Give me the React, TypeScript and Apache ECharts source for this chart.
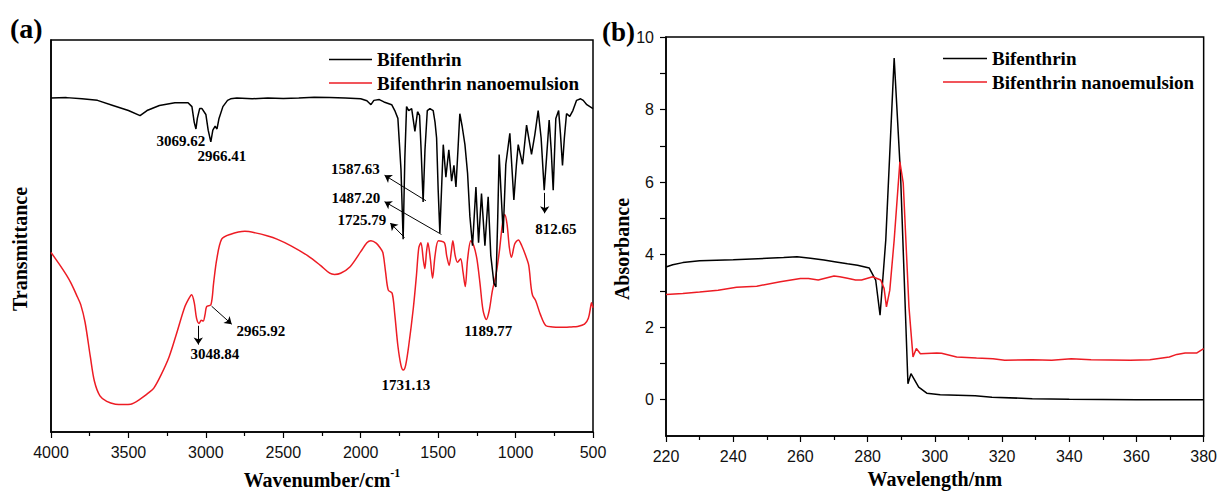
import React, { useEffect, useRef } from 'react';
import * as echarts from 'echarts';

const SERIF = '"Liberation Serif", "Times New Roman", serif';
const SANS = '"Liberation Sans", Arial, sans-serif';
const BLACK = '#000000';
const RED = '#ed1c24';

const SERIES_NAMES = ['Bifenthrin', 'Bifenthrin nanoemulsion'];

// (a) FTIR: [wavenumber cm-1, transmittance (arb.)]
const FTIR_BIFENTHRIN: [number, number][] = [
  [4000, 85.2], [3900, 85.3], [3800, 85.0], [3700, 84.6], [3600, 83.3], [3500, 82.0], [3425, 80.7],
  [3380, 82], [3300, 83.3], [3200, 84], [3115, 84], [3090, 83], [3075, 79], [3064, 77.3], [3055, 80],
  [3040, 82.5], [3025, 82.5], [3000, 81], [2985, 77], [2968, 74], [2955, 77], [2940, 78], [2928, 77.3],
  [2915, 80], [2890, 83], [2860, 84.6], [2840, 85], [2800, 85.2], [2700, 85], [2600, 85.2], [2500, 85.1],
  [2400, 85.2], [2300, 85.4], [2200, 85.3], [2100, 85.2], [2000, 85], [1960, 84.5], [1934, 83.5],
  [1915, 84.6], [1880, 84.8], [1850, 84.2], [1800, 83.5], [1780, 82], [1760, 80], [1740, 67], [1726, 49.2],
  [1715, 70], [1704, 83], [1690, 82], [1671, 82.5], [1650, 76.7], [1633, 81.7], [1620, 80.8], [1610, 72],
  [1597, 58.7], [1585, 72], [1570, 82], [1553, 82.5], [1532, 82], [1520, 79], [1510, 75], [1500, 62],
  [1489, 50.8], [1478, 62], [1467, 73.3], [1450, 65], [1431, 72], [1413, 64], [1398, 68], [1385, 62.5],
  [1372, 72], [1360, 81.2], [1345, 78], [1327, 73.3], [1310, 66], [1295, 55], [1278, 47.5], [1256, 62.5],
  [1239, 48.3], [1220, 60.8], [1198, 47.5], [1177, 60], [1160, 45], [1140, 38], [1127, 37], [1115, 55],
  [1106, 70.8], [1095, 62], [1080, 50.8], [1063, 68.3], [1037, 76.2], [1011, 59.2], [995, 68], [983, 73.3],
  [955, 68.3], [929, 78.3], [897, 70.8], [875, 76], [854, 82], [835, 75], [815, 61.7], [800, 70], [783, 79.6],
  [770, 72], [757, 61.7], [745, 75], [740, 80], [722, 82], [710, 76], [697, 68], [685, 75], [671, 81.2],
  [650, 80.5], [630, 82], [606, 84.6], [580, 85], [563, 84.6], [540, 83.5], [520, 83], [500, 82.5],
];

const FTIR_NANOEMULSION: [number, number][] = [
  [4000, 45.8], [3950, 43], [3900, 40], [3870, 37.9], [3830, 34.5], [3808, 32.5], [3780, 28], [3746, 19.2],
  [3720, 13], [3684, 9.2], [3640, 7.8], [3584, 7.1], [3530, 7], [3485, 7.1], [3420, 8.5], [3370, 10],
  [3336, 11.2], [3290, 14.5], [3237, 19.2], [3190, 25], [3138, 31.7], [3110, 34], [3092, 35], [3075, 33],
  [3060, 29], [3043, 27.7], [3030, 28.5], [3017, 28.3], [3005, 30], [2995, 32], [2967, 32.5], [2950, 38],
  [2930, 44], [2898, 49.2], [2844, 50.4], [2748, 51.2], [2680, 50.8], [2600, 50], [2541, 49.2], [2450, 47.5],
  [2343, 45], [2260, 42.5], [2200, 40.5], [2169, 40.2], [2130, 40.5], [2070, 42.1], [2000, 46], [1960, 48.3],
  [1934, 48.8], [1900, 48.2], [1875, 47], [1857, 45.8], [1840, 41], [1822, 36.2], [1797, 35.4], [1780, 30],
  [1760, 22], [1740, 17], [1725, 15.8], [1710, 17], [1690, 22], [1660, 31.7], [1640, 40], [1625, 47],
  [1611, 48.3], [1596, 44], [1586, 41.7], [1575, 46], [1566, 48.3], [1550, 44], [1536, 39.2], [1520, 45],
  [1498, 48.8], [1460, 48.3], [1445, 45], [1429, 42.5], [1415, 46], [1405, 48.8], [1390, 45], [1375, 43.3],
  [1355, 44.2], [1340, 41], [1325, 37.1], [1310, 44], [1289, 48.8], [1270, 47.5], [1250, 44.2], [1230, 38],
  [1210, 31], [1189, 28.7], [1170, 31], [1150, 36], [1127, 40], [1105, 46], [1085, 53], [1070, 55.5],
  [1055, 53], [1040, 47], [1027, 44.6], [1005, 48], [982, 49], [960, 47.5], [935, 45], [915, 42.5],
  [900, 37], [890, 34.8], [870, 33.5], [840, 30], [804, 27.1], [760, 26.8], [720, 26.7], [679, 26.7],
  [640, 26.8], [600, 26.9], [555, 27.5], [530, 29], [515, 32], [510, 33], [500, 31.7],
];

// (b) UV-vis: [wavelength nm, absorbance]
const UV_BIFENTHRIN: [number, number][] = [
  [220, 3.66], [222, 3.72], [225, 3.78], [230, 3.83], [240, 3.86], [250, 3.9], [255, 3.92], [259, 3.94],
  [263, 3.9], [267, 3.85], [270.6, 3.8], [274, 3.75], [277, 3.71], [280.5, 3.63], [282.4, 3.3],
  [283.7, 2.33], [285.4, 4.4], [287.9, 9.42], [289.8, 6.2], [292, 0.44], [292.9, 0.72], [295.2, 0.35],
  [297.6, 0.18], [301.6, 0.14], [312, 0.11], [317, 0.07], [329, 0.03], [340, 0.01], [360, 0.0], [380, 0.0],
];

const UV_NANOEMULSION: [number, number][] = [
  [220, 2.9], [225, 2.93], [230, 2.97], [235.5, 3.02], [241, 3.1], [247, 3.13], [254, 3.25], [260, 3.34],
  [262.4, 3.34], [265.3, 3.3], [270, 3.41], [271.7, 3.39], [274, 3.35], [276.4, 3.3], [278.2, 3.3],
  [281.5, 3.39], [283.9, 3.3], [284.9, 3.07], [285.6, 2.56], [286.6, 3.02], [287.9, 4.4], [289.6, 6.56],
  [290.6, 5.97], [292.3, 2.56], [293.5, 1.18], [294.5, 1.41], [295.7, 1.27], [300.6, 1.29], [302, 1.28],
  [306.5, 1.18], [312.4, 1.15], [317.3, 1.13], [320.8, 1.09], [329, 1.1], [334.8, 1.09], [340.6, 1.13],
  [346.5, 1.1], [358.2, 1.09], [364, 1.1], [369.8, 1.18], [372, 1.25], [374.5, 1.29], [378, 1.29], [380, 1.41],
];

// Peak annotations (data coordinates)
const BLACK_PEAK_LABELS: { text: string; at: [number, number] }[] = [
  { text: '3069.62', at: [3161, 74.3] },
  { text: '2966.41', at: [2896, 70.5] },
  { text: '1587.63', at: [2034, 67] },
  { text: '1487.20', at: [2031, 59.6] },
  { text: '1725.79', at: [1992, 54.2] },
  { text: '812.65', at: [740, 51.7] },
];
const BLACK_PEAK_ARROWS: { from: [number, number]; to: [number, number] }[] = [
  { from: [1579, 59], to: [1846, 65.5] },
  { from: [1479, 50.4], to: [1846, 58.75] },
  { from: [1717, 49.6], to: [1809, 53.3] },
  { from: [812, 61], to: [812, 55.8] },
];
const RED_PEAK_LABELS: { text: string; at: [number, number] }[] = [
  { text: '3048.84', at: [2941, 20] },
  { text: '2965.92', at: [2644, 25.7] },
  { text: '1731.13', at: [1708, 12.1] },
  { text: '1189.77', at: [1176, 25.7] },
];
const RED_PEAK_ARROWS: { from: [number, number]; to: [number, number] }[] = [
  { from: [3049, 27.1], to: [3049, 22.3] },
  { from: [2963, 32.1], to: [2833, 27.5] },
];

const UV_Y_MAJOR = [0, 2, 4, 6, 8, 10];
const UV_Y_TICKS = [0, 1, 2, 3, 4, 5, 6, 7, 8, 9, 10];

const annotLabelStyle = {
  fontFamily: SERIF,
  fontWeight: 'bold' as const,
  fontSize: 15,
  color: BLACK,
};

function markPoints(list: { text: string; at: [number, number] }[]) {
  return {
    silent: true,
    symbol: 'circle',
    symbolSize: 1,
    itemStyle: { color: 'rgba(0,0,0,0)' },
    label: { show: true, position: 'inside', formatter: '{b}', ...annotLabelStyle },
    data: list.map((l) => ({ name: l.text, coord: l.at })),
  };
}

function markArrows(list: { from: [number, number]; to: [number, number] }[]) {
  return {
    silent: true,
    symbol: ['none', 'arrow'],
    symbolSize: 7,
    lineStyle: { color: BLACK, width: 1, type: 'solid' },
    label: { show: false },
    data: list.map((a) => [{ coord: a.from }, { coord: a.to }]),
  };
}

const plain = (v: number) => String(v);
const tickLabelStyle = { fontFamily: SANS, fontSize: 16, color: '#111', formatter: plain };
const titleStyle = { fontFamily: SERIF, fontWeight: 'bold' as const, fontSize: 20, color: BLACK };
const axisLine = { show: true, onZero: false, lineStyle: { color: BLACK, width: 1.5 } };

const legendBase = {
  orient: 'vertical' as const,
  icon: 'rect',
  itemHeight: 1.6,
  itemGap: 4.5,
  padding: 0,
  textStyle: { fontFamily: SERIF, fontWeight: 'bold' as const, fontSize: 19, color: BLACK },
  data: SERIES_NAMES,
  selectedMode: false,
};

export default function App() {
  const ref = useRef<HTMLDivElement>(null);
  useEffect(() => {
    document.body.style.margin = '0';
    if (!ref.current) return;
    const chart = echarts.init(ref.current, undefined, { renderer: 'svg' });
    const option: any = {
      animation: false,
      backgroundColor: '#ffffff',
      legend: [
        { ...legendBase, left: 329, top: 50, itemWidth: 43 },
        { ...legendBase, left: 943, top: 49, itemWidth: 44 },
      ],
      graphic: [
        {
          type: 'text',
          left: 10,
          top: 14,
          style: { text: '(a)', fontFamily: SERIF, fontWeight: 'bold', fontSize: 28, fill: BLACK },
        },
        {
          type: 'text',
          left: 602,
          top: 18,
          z: 10,
          style: { text: '(b)', fontFamily: SERIF, fontWeight: 'bold', fontSize: 27, fill: BLACK },
        },
      ],
      grid: [
        { left: 51, top: 40, width: 542, height: 400, show: true, borderColor: BLACK, borderWidth: 1.5, backgroundColor: 'transparent' },
        { left: 666, top: 37, width: 544, height: 399, show: true, borderColor: BLACK, borderWidth: 1.5, backgroundColor: 'transparent' },
      ],
      xAxis: [
        {
          gridIndex: 0,
          type: 'value',
          inverse: true,
          min: 500,
          max: 4000,
          interval: 500,
          axisLine,
          axisTick: { show: true, inside: false, length: 6, lineStyle: { color: BLACK, width: 1.2 } },
          minorTick: { show: true, splitNumber: 2, length: 4, lineStyle: { color: BLACK, width: 1.2 } },
          axisLabel: { ...tickLabelStyle, margin: 12 },
          splitLine: { show: false },
          name: 'Wavenumber/cm{sup|-1}',
          nameLocation: 'middle',
          nameGap: 35,
          nameTextStyle: {
            ...titleStyle,
            lineHeight: 26,
            rich: {
              sup: { fontFamily: SERIF, fontWeight: 'bold', fontSize: 12, color: BLACK, verticalAlign: 'top', lineHeight: 12 },
            },
          },
        },
        {
          gridIndex: 1,
          type: 'value',
          min: 220,
          max: 380,
          interval: 20,
          axisLine,
          axisTick: { show: true, inside: false, length: 6, lineStyle: { color: BLACK, width: 1.2 } },
          minorTick: { show: true, splitNumber: 2, length: 4, lineStyle: { color: BLACK, width: 1.2 } },
          axisLabel: { ...tickLabelStyle, margin: 12 },
          splitLine: { show: false },
          name: 'Wavelength/nm',
          nameLocation: 'middle',
          nameGap: 33,
          nameTextStyle: titleStyle,
        },
      ],
      yAxis: [
        {
          gridIndex: 0,
          type: 'value',
          min: 0,
          max: 100,
          axisLine,
          axisTick: { show: false },
          axisLabel: { show: false },
          splitLine: { show: false },
          name: 'Transmittance',
          nameLocation: 'middle',
          nameGap: 21,
          nameTextStyle: { ...titleStyle, padding: [0, 26, 0, 0] },
        },
        {
          gridIndex: 1,
          type: 'value',
          min: -1,
          max: 10,
          axisLine,
          axisTick: { show: true, inside: false, length: 6, customValues: UV_Y_TICKS, lineStyle: { color: BLACK, width: 1.2 } },
          axisLabel: { ...tickLabelStyle, margin: 12, customValues: UV_Y_MAJOR },
          splitLine: { show: false },
          name: 'Absorbance',
          nameLocation: 'middle',
          nameGap: 32,
          nameTextStyle: { ...titleStyle, padding: [0, 25, 0, 0] },
        },
      ],
      series: [
        {
          name: SERIES_NAMES[0],
          type: 'line',
          xAxisIndex: 0,
          yAxisIndex: 0,
          data: FTIR_BIFENTHRIN,
          showSymbol: false,
          symbol: 'none',
          lineStyle: { color: BLACK, width: 1.5 },
          itemStyle: { color: BLACK },
          z: 3,
          markPoint: markPoints(BLACK_PEAK_LABELS),
          markLine: markArrows(BLACK_PEAK_ARROWS),
        },
        {
          name: SERIES_NAMES[1],
          type: 'line',
          xAxisIndex: 0,
          yAxisIndex: 0,
          data: FTIR_NANOEMULSION,
          showSymbol: false,
          symbol: 'none',
          smooth: 0.3,
          lineStyle: { color: RED, width: 1.5 },
          itemStyle: { color: RED },
          z: 2,
          markPoint: markPoints(RED_PEAK_LABELS),
          markLine: markArrows(RED_PEAK_ARROWS),
        },
        {
          name: SERIES_NAMES[0],
          type: 'line',
          xAxisIndex: 1,
          yAxisIndex: 1,
          data: UV_BIFENTHRIN,
          showSymbol: false,
          symbol: 'none',
          lineStyle: { color: BLACK, width: 1.5 },
          itemStyle: { color: BLACK },
          z: 2,
        },
        {
          name: SERIES_NAMES[1],
          type: 'line',
          xAxisIndex: 1,
          yAxisIndex: 1,
          data: UV_NANOEMULSION,
          showSymbol: false,
          symbol: 'none',
          lineStyle: { color: RED, width: 1.5 },
          itemStyle: { color: RED },
          z: 3,
        },
      ],
    };
    chart.setOption(option);
    return () => chart.dispose();
  }, []);
  return <div ref={ref} style={{ width: 1220, height: 498 }} />;
}
